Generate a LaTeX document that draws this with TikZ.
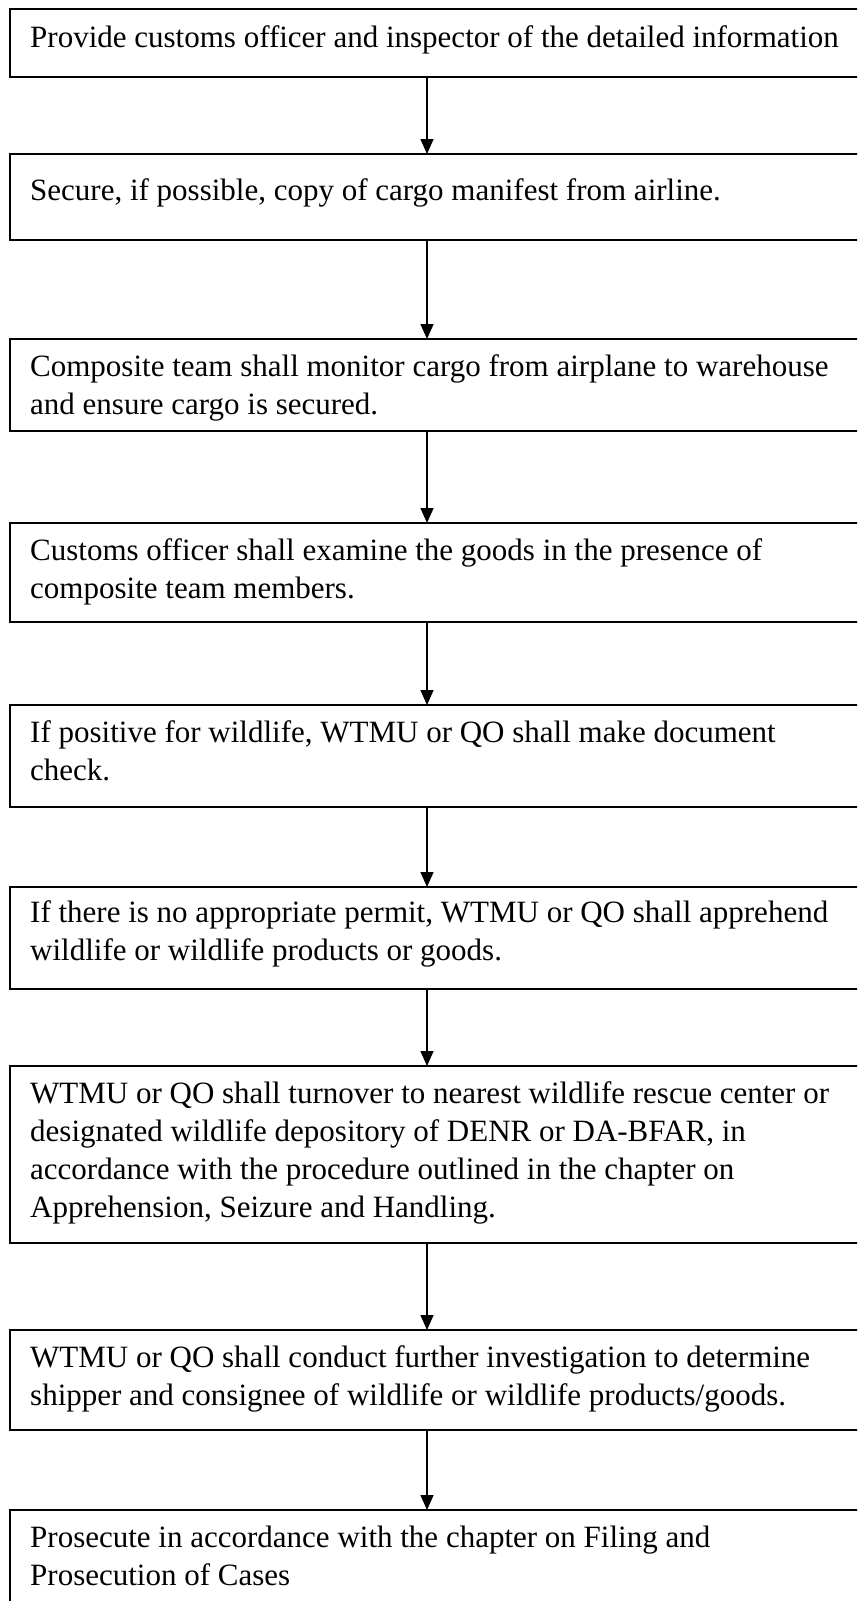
\documentclass[tikz,border=0pt]{standalone}
\usepackage{fontspec}
\setmainfont{Liberation Serif}
\usetikzlibrary{positioning,arrows.meta}

\tikzset{
  stepbox/.style={draw,line width=1.8pt,minimum width=861pt,inner sep=0pt,outer sep=0pt},
  steptext/.style={inner sep=0pt,align=left,font=\fontsize{31}{38}\selectfont},
  flow/.style={-{Triangle[length=15pt,width=13pt]},line width=1.5pt}
}
\newcommand{\topline}{\rule{0pt}{24pt}}

\begin{document}
\begin{tikzpicture}[x=1pt,y=-1pt]
\useasboundingbox (0,0) rectangle (857,1601);
\clip (0,0) rectangle (857,1601);
\coordinate (axis) at (427,0);
% boxes
\node[stepbox,anchor=north west,minimum height=68pt] (b1) at (10,9) {};
\node[stepbox,minimum height=86pt,below=77pt of b1] (b2) {};
\node[stepbox,minimum height=92pt,below=99pt of b2] (b3) {};
\node[stepbox,minimum height=99pt,below=92pt of b3] (b4) {};
\node[stepbox,minimum height=102pt,below=83pt of b4] (b5) {};
\node[stepbox,minimum height=102pt,below=80pt of b5] (b6) {};
\node[stepbox,minimum height=177pt,below=77pt of b6] (b7) {};
\node[stepbox,minimum height=100pt,below=87pt of b7] (b8) {};
\node[stepbox,minimum height=200pt,below=80pt of b8] (b9) {};
% texts
\node[steptext,below right=14pt and 20pt of b1.north west] (t1) {\topline Provide customs officer and inspector of the detailed information};
\node[steptext,below right=22pt and 20pt of b2.north west] (t2) {\topline Secure, if possible, copy of cargo manifest from airline.};
\node[steptext,below right=13pt and 20pt of b3.north west] (t3) {\topline Composite team shall monitor cargo from airplane to warehouse\\and ensure cargo is secured.};
\node[steptext,below right=13pt and 20pt of b4.north west] (t4) {\topline Customs officer shall examine the goods in the presence of\\composite team members.};
\node[steptext,below right=13pt and 20pt of b5.north west] (t5) {\topline If positive for wildlife, WTMU or QO shall make document\\check.};
\node[steptext,below right=11pt and 20pt of b6.north west] (t6) {\topline If there is no appropriate permit, WTMU or QO shall apprehend\\wildlife or wildlife products or goods.};
\node[steptext,below right=13pt and 20pt of b7.north west] (t7) {\topline WTMU or QO shall turnover to nearest wildlife rescue center or\\designated wildlife depository of DENR or DA-BFAR, in\\accordance with the procedure outlined in the chapter on\\Apprehension, Seizure and Handling.};
\node[steptext,below right=13pt and 20pt of b8.north west] (t8) {\topline WTMU or QO shall conduct further investigation to determine\\shipper and consignee of wildlife or wildlife products/goods.};
\node[steptext,below right=13pt and 20pt of b9.north west] (t9) {\topline Prosecute in accordance with the chapter on Filing and\\Prosecution of Cases};
% arrows
\foreach \a/\b in {b1/b2,b2/b3,b3/b4,b4/b5,b5/b6,b6/b7,b7/b8,b8/b9}
  \draw[flow] (\a.south -| axis) -- (\b.north -| axis);
\end{tikzpicture}
\end{document}
